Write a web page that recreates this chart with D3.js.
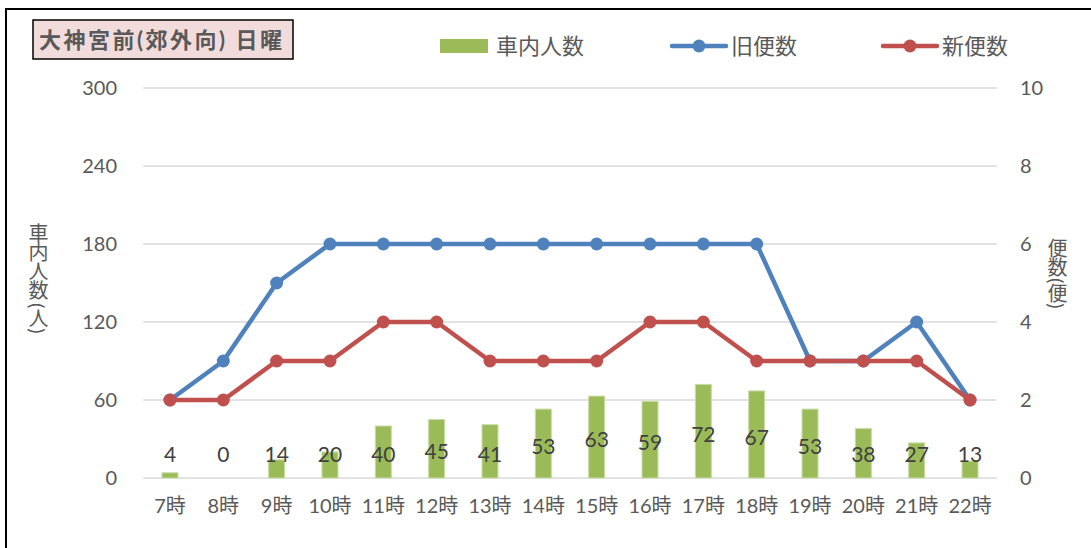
<!DOCTYPE html>
<html><head><meta charset="utf-8">
<script src="https://cdn.jsdelivr.net/npm/d3@7/dist/d3.min.js"></script>
<style>
body{margin:0;background:#fff;}
text{font-family:"Lato","Noto Sans CJK JP",sans-serif;}
</style></head>
<body><svg id="c" width="1091" height="548"></svg>
<script>
const categories=["7時","8時","9時","10時","11時","12時","13時","14時","15時","16時","17時","18時","19時","20時","21時","22時"];
const riders=[4,0,14,20,40,45,41,53,63,59,72,67,53,38,27,13];
const oldTrips=[2,3,5,6,6,6,6,6,6,6,6,6,3,3,4,2];
const newTrips=[2,2,3,3,4,4,3,3,3,4,4,3,3,3,3,2];
const leftTicks=[0,60,120,180,240,300];
const rightTicks=[0,2,4,6,8,10];

const svg=d3.select("#c");
const green="#9BBB59",blue="#4F81BD",red="#C0504D",txt="#595959",grid="#D9D9D9";
svg.append("rect").attr("x",6).attr("y",9).attr("width",1200).attr("height",600).attr("fill","#fff").attr("stroke","#000").attr("stroke-width",2);

const x=d3.scaleBand().domain(categories).range([143.3,996.7]);
const yL=d3.scaleLinear().domain([0,300]).range([478,88]);
const yR=d3.scaleLinear().domain([0,10]).range([478,88]);

svg.append("g").selectAll("line").data(leftTicks).join("line")
 .attr("x1",143.3).attr("x2",996.7).attr("y1",d=>yL(d)).attr("y2",d=>yL(d))
 .attr("stroke",grid).attr("stroke-width",1.5);

const axL=d3.axisLeft(yL).tickValues(leftTicks).tickSize(0).tickPadding(0);
const gL=svg.append("g").attr("transform","translate(117,0)").call(axL);
gL.select(".domain").remove();
gL.selectAll("text").attr("fill",txt).attr("font-size",20);
const axR=d3.axisRight(yR).tickValues(rightTicks).tickSize(0).tickPadding(0);
const gR=svg.append("g").attr("transform","translate(1020,0)").call(axR);
gR.select(".domain").remove();
gR.selectAll("text").attr("fill",txt).attr("font-size",20);
const axB=d3.axisBottom(x).tickSize(0).tickPadding(0);
const gB=svg.append("g").attr("transform","translate(0,499)").call(axB);
gB.select(".domain").remove();
gB.selectAll("text").attr("fill",txt).attr("font-size",20).attr("dy","0.7em");

const bw=16;
svg.append("g").selectAll("rect").data(riders).join("rect")
 .attr("x",(d,i)=>x(categories[i])+x.bandwidth()/2-bw/2)
 .attr("width",bw)
 .attr("y",d=>yL(d))
 .attr("height",d=>yL(0)-yL(d))
 .attr("fill",green).attr("stroke","#c8dca6").attr("stroke-width",d=>d>0?1:0);

function drawLine(data,color){
  const line=d3.line().x((d,i)=>x(categories[i])+x.bandwidth()/2).y(d=>yR(d));
  svg.append("path").datum(data).attr("d",line).attr("fill","none").attr("stroke",color).attr("stroke-width",4.5).attr("stroke-linejoin","round");
  svg.append("g").selectAll("circle").data(data).join("circle")
   .attr("cx",(d,i)=>x(categories[i])+x.bandwidth()/2).attr("cy",d=>yR(d)).attr("r",6.5).attr("fill",color);
}
drawLine(oldTrips,blue);
drawLine(newTrips,red);

svg.append("g").selectAll("text").data(riders).join("text")
 .attr("x",(d,i)=>x(categories[i])+x.bandwidth()/2)
 .attr("y",d=>Math.min((yL(d)+yL(0))/2+3,455))
 .attr("dy","0.35em").attr("text-anchor","middle")
 .attr("fill","#404040").attr("font-size",21).text(d=>d);

svg.append("text").attr("x",38).attr("y",223).attr("fill",txt).attr("font-size",20)
 .style("writing-mode","vertical-rl").style("text-orientation","upright").style("letter-spacing","-1px").text("車内人数");
svg.append("text").attr("x",38).attr("y",303).attr("fill",txt).attr("font-size",20)
 .style("writing-mode","vertical-rl").text("(人)");
svg.append("text").attr("x",1057).attr("y",238).attr("fill",txt).attr("font-size",20)
 .style("writing-mode","vertical-rl").style("text-orientation","upright").style("letter-spacing","-1px").text("便数");
svg.append("text").attr("x",1057).attr("y",278).attr("fill",txt).attr("font-size",20)
 .style("writing-mode","vertical-rl").text("(便)");

svg.append("rect").attr("x",33).attr("y",20).attr("width",260).attr("height",39).attr("fill","#F2DCDB").attr("stroke","#000").attr("stroke-width",1.5);
svg.append("text").attr("x",39).attr("y",40).attr("dy","0.35em").attr("fill",txt).attr("font-size",22).attr("font-weight","bold").attr("font-family","Noto Sans CJK JP").style("letter-spacing","2.5px").text("大神宮前(郊外向) 日曜");

const lg=svg.append("g");
lg.append("rect").attr("x",440).attr("y",39).attr("width",48).attr("height",14).attr("fill",green);
lg.append("text").attr("x",496).attr("y",46).attr("dy","0.35em").attr("fill",txt).attr("font-size",22).text("車内人数");
[[672,blue,"旧便数"],[883,red,"新便数"]].forEach(([lx,c,t])=>{
  lg.append("line").attr("x1",lx).attr("x2",lx+54).attr("y1",46).attr("y2",46).attr("stroke",c).attr("stroke-width",4.5).attr("stroke-linecap","round");
  lg.append("circle").attr("cx",lx+27).attr("cy",46).attr("r",6.5).attr("fill",c);
  lg.append("text").attr("x",lx+59).attr("y",46).attr("dy","0.35em").attr("fill",txt).attr("font-size",22).text(t);
});
</script></body></html>
